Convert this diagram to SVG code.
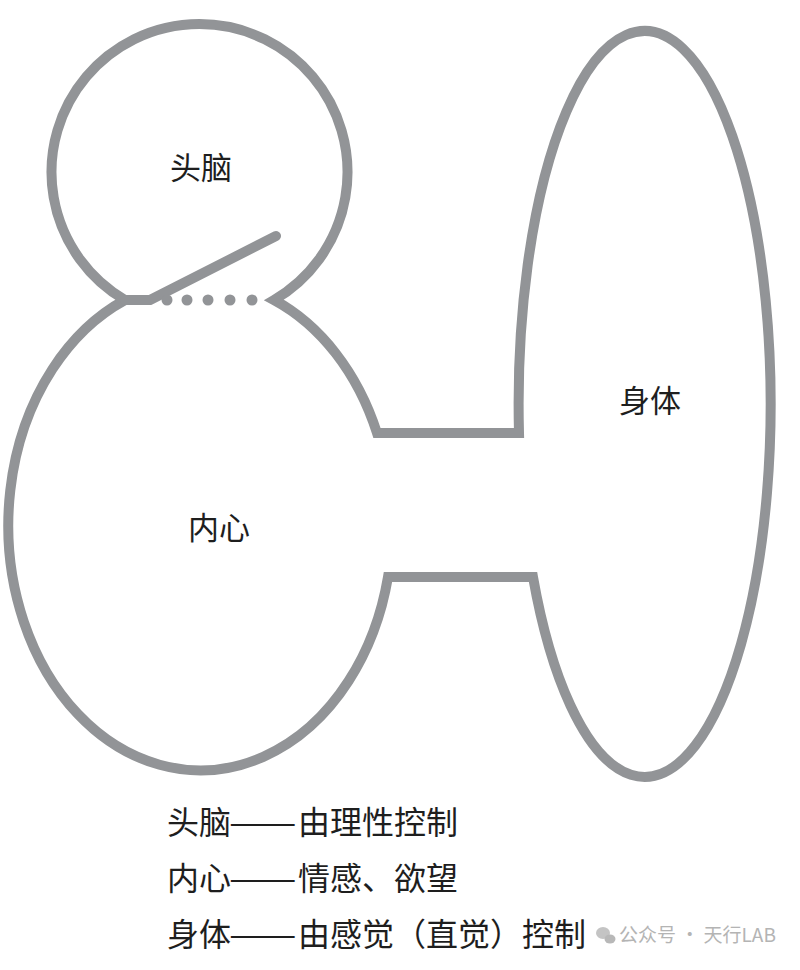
<svg xmlns="http://www.w3.org/2000/svg" width="800" height="970" viewBox="0 0 800 970">
<style>
.ol{fill:none;stroke:#929497;stroke-width:10;stroke-linejoin:miter;stroke-miterlimit:6}
.ln{fill:none;stroke:#929497;stroke-width:10;stroke-linecap:round;stroke-linejoin:round}
.dot{fill:#929497}
.lbl{font-family:"Noto Sans CJK SC","Noto Sans CJK TC",sans-serif;font-size:31px;fill:#1e1e1e;text-anchor:middle}
.leg{font-family:"Noto Sans CJK SC","Noto Sans CJK TC",sans-serif;font-size:32px;fill:#1e1e1e}
.wm{font-family:"Noto Sans CJK SC","Noto Sans CJK TC",sans-serif;font-size:19px;fill:#b4b4b4}
</style>
<rect width="800" height="970" fill="#ffffff"/>
<g id="outline">
<path class="ol" d="M125,300 A148,148 0 1 1 274,300 A192,245 0 0 1 377,433 L519,433 A126,373 0 1 1 533,577 L388,577 A192,245 0 1 1 125,300 Z"/>
</g>
<g id="connectors">
<path class="ln" d="M125,300 L150,300 L276,236"/>
<circle class="dot" cx="167" cy="300" r="5.5"/>
<circle class="dot" cx="187" cy="300" r="5.5"/>
<circle class="dot" cx="208" cy="300" r="5.5"/>
<circle class="dot" cx="230" cy="300" r="5.5"/>
<circle class="dot" cx="252" cy="300" r="5.5"/>
</g>
<g id="head"><text class="lbl" x="201" y="179">头脑</text></g>
<g id="heart"><text class="lbl" x="219" y="539">内心</text></g>
<g id="body"><text class="lbl" x="650" y="412">身体</text></g>
<g id="legend">
<text class="leg" x="167" y="834">头脑</text>
<text class="leg" transform="translate(229,834) scale(1.26,1)" x="0" y="0">——</text>
<text class="leg" x="298 330 362 394 426" y="834">由理性控制</text>
<text class="leg" x="167" y="890">内心</text>
<text class="leg" transform="translate(229,890) scale(1.26,1)" x="0" y="0">——</text>
<text class="leg" x="298 330 362 394 426" y="890">情感、欲望</text>
<text class="leg" x="167" y="946">身体</text>
<text class="leg" transform="translate(229,946) scale(1.26,1)" x="0" y="0">——</text>
<text class="leg" x="298 330 362 394 426 458 490 522 554" y="946">由感觉（直觉）控制</text>
</g>
<g id="watermark">
<ellipse cx="603" cy="933" rx="7" ry="6" fill="#c4c4c4"/>
<ellipse cx="610" cy="939" rx="5.5" ry="4.5" fill="#b8b8b8"/>
<text class="wm" x="619" y="942">公众号 · 天行LAB</text>
</g>
</svg>
